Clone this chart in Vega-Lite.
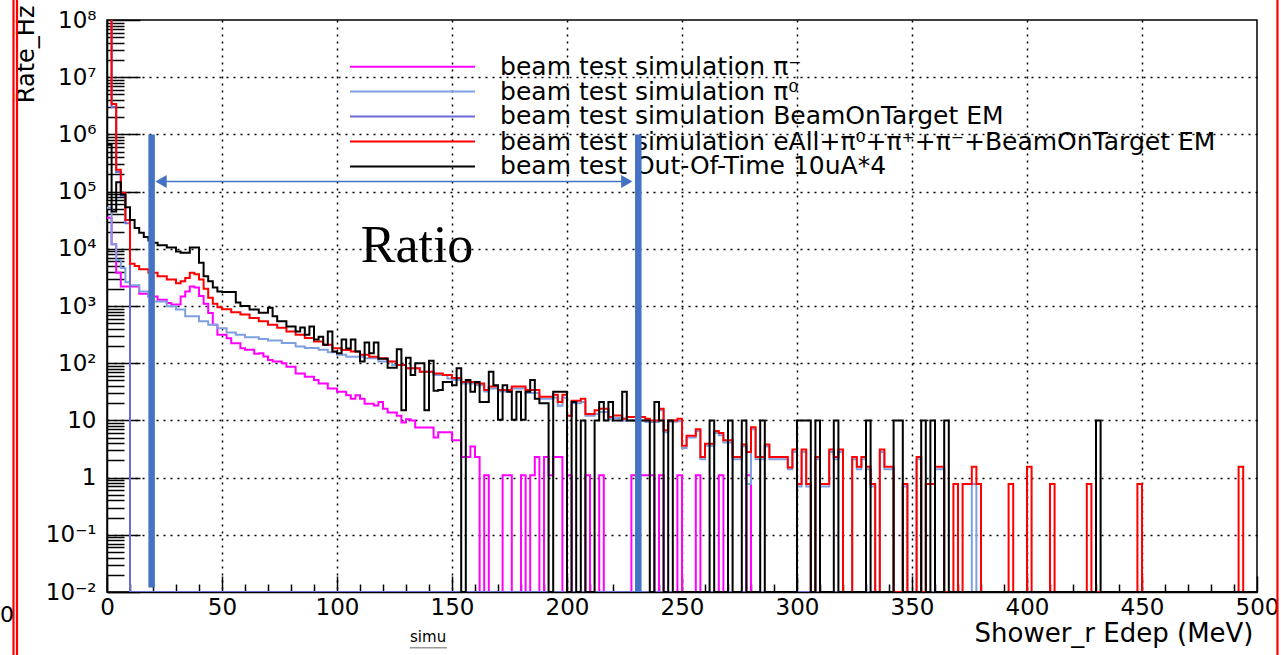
{
  "$schema": "https://vega.github.io/schema/vega-lite/v6.json",
  "width": 1150,
  "height": 572,
  "autosize": {"type": "none"},
  "padding": {"left": 107, "top": 20, "right": 24, "bottom": 63},
  "background": "white",
  "config": {"view": {"stroke": "black", "strokeWidth": 1.5}, "font": "DejaVu Sans"},
  "datasets": {
    "pim": [
      {"x":0,"v":35000},{"x":2,"v":12000},{"x":4,"v":3800},{"x":6,"v":2200},{"x":14,"v":1640},{"x":18,"v":1470},{"x":22,"v":1290},{"x":26,"v":1130},{"x":28,"v":1060},{"x":32,"v":1470},{"x":34,"v":1800},{"x":36,"v":2200},{"x":38,"v":2100},{"x":40,"v":1500},{"x":42,"v":1100},{"x":44,"v":755},{"x":46,"v":470},{"x":48,"v":314},{"x":52,"v":274},{"x":54,"v":224},{"x":58,"v":183},{"x":60,"v":171},{"x":64,"v":146},{"x":66,"v":150},{"x":68,"v":131},{"x":70,"v":114},{"x":72,"v":107},{"x":76,"v":100},{"x":78,"v":87},{"x":82,"v":66},{"x":86,"v":58},{"x":90,"v":51},{"x":92,"v":44},{"x":96,"v":36},{"x":100,"v":31.6},{"x":104,"v":27.6},{"x":106,"v":24},{"x":108,"v":27.6},{"x":110,"v":24},{"x":112,"v":19.6},{"x":116,"v":18.3},{"x":118,"v":21},{"x":120,"v":16},{"x":122,"v":13.7},{"x":126,"v":12},{"x":128,"v":9.2},{"x":130,"v":10.5},{"x":132,"v":10},{"x":134,"v":7.5},{"x":142,"v":5},{"x":144,"v":6.2},{"x":150,"v":4.5},{"x":154,"v":2.3},{"x":158,"v":3.5},{"x":160,"v":2.3},{"x":162,"v":0.01},{"x":164,"v":1.1},{"x":166,"v":0.01},{"x":172,"v":1.1},{"x":176,"v":0.01},{"x":180,"v":1.1},{"x":182,"v":0.01},{"x":184,"v":1.1},{"x":186,"v":2.3},{"x":188,"v":0.01},{"x":190,"v":2.3},{"x":192,"v":1.1},{"x":194,"v":2.3},{"x":198,"v":0.01},{"x":200,"v":1.1},{"x":202,"v":0.01},{"x":208,"v":1.1},{"x":210,"v":0.01},{"x":214,"v":1.1},{"x":216,"v":0.01},{"x":228,"v":1.1},{"x":238,"v":0.01},{"x":240,"v":1.1},{"x":242,"v":0.01},{"x":248,"v":1.1},{"x":250,"v":0.01},{"x":256,"v":1.1},{"x":258,"v":0.01},{"x":266,"v":1.1},{"x":268,"v":0.01},{"x":278,"v":1.1},{"x":280,"v":0.01},{"x":500,"v":0.01}
    ],
    "pi0": [
      {"x":0,"v":52000},{"x":2,"v":12000},{"x":4,"v":6400},{"x":6,"v":4600},{"x":8,"v":2600},{"x":10,"v":2300},{"x":14,"v":1800},{"x":18,"v":1470},{"x":20,"v":1200},{"x":26,"v":990},{"x":30,"v":865},{"x":34,"v":660},{"x":40,"v":540},{"x":44,"v":470},{"x":48,"v":410},{"x":52,"v":345},{"x":56,"v":315},{"x":60,"v":285},{"x":66,"v":265},{"x":70,"v":250},{"x":76,"v":225},{"x":82,"v":196},{"x":86,"v":185},{"x":92,"v":171},{"x":96,"v":155},{"x":100,"v":140},{"x":104,"v":130},{"x":112,"v":122},{"x":118,"v":107},{"x":124,"v":93},{"x":130,"v":82},{"x":136,"v":71},{"x":142,"v":62},{"x":148,"v":54},{"x":150,"v":51},{"x":154,"v":44},{"x":160,"v":41},{"x":164,"v":32},{"x":166,"v":36},{"x":170,"v":32},{"x":176,"v":36},{"x":182,"v":30},{"x":188,"v":24},{"x":194,"v":25},{"x":196,"v":18},{"x":198,"v":25},{"x":200,"v":12},{"x":202,"v":20},{"x":206,"v":21},{"x":208,"v":12},{"x":212,"v":13},{"x":214,"v":14},{"x":218,"v":10.5},{"x":220,"v":11},{"x":224,"v":10},{"x":234,"v":9.4},{"x":240,"v":15},{"x":242,"v":6.2},{"x":244,"v":9.5},{"x":248,"v":9.8},{"x":250,"v":3.3},{"x":252,"v":5},{"x":256,"v":6.5},{"x":258,"v":2.1},{"x":260,"v":3.6},{"x":264,"v":6},{"x":266,"v":5.5},{"x":268,"v":4.1},{"x":272,"v":2.1},{"x":276,"v":3.5},{"x":278,"v":0.77},{"x":280,"v":7},{"x":282,"v":2.1},{"x":286,"v":3.5},{"x":288,"v":2.1},{"x":296,"v":1.4},{"x":298,"v":2.8},{"x":300,"v":0.7},{"x":302,"v":2.8},{"x":304,"v":0.7},{"x":306,"v":0.01},{"x":308,"v":2.1},{"x":310,"v":0.7},{"x":314,"v":2.8},{"x":316,"v":2.1},{"x":318,"v":2.8},{"x":320,"v":0.01},{"x":324,"v":2.1},{"x":326,"v":1.4},{"x":328,"v":2.1},{"x":330,"v":1.4},{"x":332,"v":0.7},{"x":334,"v":0.01},{"x":336,"v":2.8},{"x":338,"v":1.4},{"x":342,"v":0.01},{"x":346,"v":0.7},{"x":348,"v":0.01},{"x":352,"v":2.1},{"x":354,"v":0.01},{"x":360,"v":1.4},{"x":364,"v":0.01},{"x":376,"v":0.77},{"x":378,"v":0.01},{"x":500,"v":0.01}
    ],
    "bot": [
      {"x":0,"v":1e9},{"x":2,"v":3000000},{"x":4,"v":220000},{"x":6,"v":85000},{"x":8,"v":28000},{"x":10,"v":0.01},{"x":500,"v":0.01}
    ],
    "all": [
      {"x":0,"v":1e9},{"x":2,"v":3400000},{"x":4,"v":240000},{"x":6,"v":95000},{"x":8,"v":32000},{"x":10,"v":5500},{"x":12,"v":5000},{"x":14,"v":4400},{"x":18,"v":3800},{"x":22,"v":3300},{"x":26,"v":2900},{"x":30,"v":2500},{"x":32,"v":2700},{"x":34,"v":3100},{"x":36,"v":3800},{"x":38,"v":3600},{"x":40,"v":2900},{"x":42,"v":2000},{"x":44,"v":1400},{"x":46,"v":1100},{"x":48,"v":950},{"x":50,"v":880},{"x":54,"v":780},{"x":58,"v":710},{"x":62,"v":620},{"x":66,"v":540},{"x":70,"v":470},{"x":74,"v":415},{"x":78,"v":360},{"x":82,"v":315},{"x":86,"v":275},{"x":90,"v":240},{"x":94,"v":210},{"x":98,"v":183},{"x":102,"v":170},{"x":106,"v":160},{"x":110,"v":140},{"x":114,"v":130},{"x":118,"v":122},{"x":122,"v":107},{"x":126,"v":93},{"x":130,"v":82},{"x":136,"v":71},{"x":142,"v":66},{"x":146,"v":62},{"x":150,"v":55},{"x":154,"v":47},{"x":160,"v":44},{"x":164,"v":34},{"x":166,"v":39},{"x":170,"v":34},{"x":176,"v":39},{"x":182,"v":34},{"x":188,"v":26},{"x":194,"v":28},{"x":196,"v":21},{"x":198,"v":28},{"x":200,"v":12},{"x":202,"v":22},{"x":206,"v":24},{"x":208,"v":13},{"x":212,"v":15},{"x":214,"v":16},{"x":218,"v":11.5},{"x":220,"v":12.2},{"x":224,"v":10.7},{"x":226,"v":11.5},{"x":234,"v":10.7},{"x":236,"v":10},{"x":240,"v":16},{"x":242,"v":6.7},{"x":244,"v":10},{"x":248,"v":10.7},{"x":250,"v":3.6},{"x":252,"v":5.4},{"x":256,"v":7},{"x":258,"v":2.3},{"x":260,"v":3.9},{"x":264,"v":6.5},{"x":266,"v":6},{"x":268,"v":4.5},{"x":272,"v":2.3},{"x":276,"v":3.8},{"x":278,"v":2.8},{"x":280,"v":7.6},{"x":282,"v":2.3},{"x":286,"v":3.8},{"x":288,"v":2.3},{"x":296,"v":1.5},{"x":298,"v":3.1},{"x":300,"v":0.77},{"x":302,"v":3.1},{"x":304,"v":0.77},{"x":306,"v":0.01},{"x":308,"v":2.3},{"x":310,"v":0.77},{"x":314,"v":3.1},{"x":316,"v":2.3},{"x":318,"v":3.1},{"x":320,"v":0.01},{"x":324,"v":2.3},{"x":326,"v":1.55},{"x":328,"v":2.3},{"x":330,"v":1.55},{"x":332,"v":0.77},{"x":334,"v":0.01},{"x":336,"v":3.1},{"x":338,"v":1.55},{"x":342,"v":0.01},{"x":346,"v":0.77},{"x":348,"v":0.01},{"x":352,"v":2.3},{"x":354,"v":0.01},{"x":356,"v":0.77},{"x":360,"v":1.55},{"x":364,"v":0.01},{"x":368,"v":0.77},{"x":370,"v":0.01},{"x":372,"v":0.77},{"x":376,"v":1.55},{"x":378,"v":0.77},{"x":380,"v":0.01},{"x":392,"v":0.77},{"x":394,"v":0.01},{"x":400,"v":1.55},{"x":402,"v":0.01},{"x":410,"v":0.77},{"x":412,"v":0.01},{"x":426,"v":0.77},{"x":428,"v":0.01},{"x":448,"v":0.77},{"x":450,"v":0.01},{"x":492,"v":1.55},{"x":494,"v":0.01},{"x":500,"v":0.01}
    ],
    "oot": [
      {"x":0,"v":660000},{"x":2,"v":45000},{"x":4,"v":145000},{"x":6,"v":89000},{"x":8,"v":53000},{"x":10,"v":32000},{"x":12,"v":23000},{"x":14,"v":19000},{"x":16,"v":16000},{"x":18,"v":14000},{"x":20,"v":12700},{"x":22,"v":11500},{"x":26,"v":10500},{"x":30,"v":9000},{"x":32,"v":8500},{"x":36,"v":10500},{"x":40,"v":5700},{"x":42,"v":3300},{"x":44,"v":2700},{"x":46,"v":2100},{"x":48,"v":1800},{"x":50,"v":1760},{"x":56,"v":1150},{"x":58,"v":1000},{"x":62,"v":870},{"x":66,"v":760},{"x":70,"v":930},{"x":72,"v":660},{"x":74,"v":540},{"x":78,"v":440},{"x":82,"v":360},{"x":84,"v":420},{"x":86,"v":315},{"x":88,"v":440},{"x":90,"v":260},{"x":92,"v":290},{"x":94,"v":210},{"x":96,"v":360},{"x":98,"v":160},{"x":100,"v":150},{"x":102,"v":260},{"x":104,"v":180},{"x":106,"v":260},{"x":108,"v":160},{"x":110,"v":107},{"x":112,"v":230},{"x":114,"v":150},{"x":116,"v":230},{"x":118,"v":120},{"x":122,"v":83},{"x":126,"v":175},{"x":128,"v":15},{"x":130,"v":125},{"x":132,"v":62},{"x":134,"v":100},{"x":138,"v":15},{"x":140,"v":110},{"x":142,"v":33},{"x":144,"v":34},{"x":146,"v":47},{"x":150,"v":41},{"x":152,"v":82},{"x":154,"v":0.01},{"x":156,"v":51},{"x":158,"v":31.6},{"x":160,"v":47},{"x":162,"v":21},{"x":166,"v":71},{"x":168,"v":41},{"x":170,"v":10.3},{"x":172,"v":41},{"x":174,"v":31.6},{"x":176,"v":10.3},{"x":178,"v":31.6},{"x":180,"v":10.3},{"x":182,"v":31.6},{"x":184,"v":51},{"x":186,"v":24},{"x":188,"v":20},{"x":192,"v":0.01},{"x":194,"v":31.6},{"x":200,"v":0.01},{"x":202,"v":21},{"x":204,"v":0.01},{"x":206,"v":10},{"x":208,"v":0.01},{"x":212,"v":10},{"x":214,"v":21},{"x":216,"v":10},{"x":218,"v":21},{"x":220,"v":10},{"x":224,"v":31.6},{"x":226,"v":10},{"x":230,"v":10},{"x":236,"v":0.01},{"x":238,"v":21},{"x":240,"v":10},{"x":242,"v":0.01},{"x":244,"v":10},{"x":246,"v":0.01},{"x":262,"v":10},{"x":264,"v":0.01},{"x":270,"v":10},{"x":272,"v":0.01},{"x":276,"v":10},{"x":278,"v":0.01},{"x":284,"v":10},{"x":286,"v":0.01},{"x":300,"v":10},{"x":306,"v":0.01},{"x":308,"v":10},{"x":310,"v":0.01},{"x":316,"v":10},{"x":318,"v":0.01},{"x":330,"v":10},{"x":332,"v":0.01},{"x":342,"v":10},{"x":346,"v":0.01},{"x":354,"v":10},{"x":356,"v":0.01},{"x":358,"v":10},{"x":360,"v":0.01},{"x":364,"v":10},{"x":366,"v":0.01},{"x":430,"v":10},{"x":432,"v":0.01},{"x":500,"v":0.01}
    ],
    "legendLines": [
      {"x":105.65,"x2":160,"v":15200000,"c":"pim"},
      {"x":105.65,"x2":160,"v":5600000,"c":"pi0"},
      {"x":105.65,"x2":160,"v":2060000,"c":"bot"},
      {"x":105.65,"x2":160,"v":750000,"c":"all"},
      {"x":105.65,"x2":160,"v":275000,"c":"oot"}
    ],
    "legendText": [
      {"x":170.9,"v":15200000,"label":"beam test simulation π⁻"},
      {"x":170.9,"v":5600000,"label":"beam test simulation π⁰"},
      {"x":170.9,"v":2060000,"label":"beam test simulation BeamOnTarget EM"},
      {"x":170.9,"v":750000,"label":"beam test simulation eAll+π⁰+π⁺+π⁻+BeamOnTarget EM"},
      {"x":170.9,"v":275000,"label":"beam test Out-Of-Time 10uA*4"}
    ],
    "bars": [{"x":19.4,"v":1000000,"v2":0.012},{"x":231,"v":1000000,"v2":0.01}],
    "arrow": [{"x":23,"x2":226,"v":150000}],
    "headL": [{"x":23.5,"v":150000}],
    "headR": [{"x":226,"v":150000}],
    "ratio": [{"x":134.8,"v":5900,"t":"Ratio"}],
    "deco": [{"x":-40.65,"v":0.0005,"v2":300000000},{"x":-39.13,"v":0.0005,"v2":300000000},{"x":508.9,"v":0.0005,"v2":300000000}],
    "extra": [{"x":-43.5,"v":0.004,"t":"0"}],
    "simu": [{"x":139.6,"v":0.00166,"t":"simu"}],
    "simubar": [{"x":131.7,"x2":147.8,"v":0.00106}]
  },
  "encoding": {
    "x": {
      "field": "x", "type": "quantitative",
      "scale": {"domain": [0, 500], "nice": false, "zero": false},
      "axis": {
        "values": [0,10,20,30,40,50,60,70,80,90,100,110,120,130,140,150,160,170,180,190,200,210,220,230,240,250,260,270,280,290,300,310,320,330,340,350,360,370,380,390,400,410,420,430,440,450,460,470,480,490,500],
        "format": "d",
        "labelExpr": "datum.value % 50 === 0 ? datum.label : ''",
        "labelFont": "DejaVu Sans", "labelFontSize": 23, "labelColor": "black",
        "labelPadding": 20, "labelFlush": false, "labelOverlap": false, "labelBound": false,
        "tickColor": "black", "tickWidth": 1.5,
        "tickSize": {"condition": {"test": "datum.value % 50 === 0", "value": -16}, "value": -8},
        "domainColor": "black", "domainWidth": 1.5,
        "grid": true, "gridColor": "black", "gridWidth": 1.5, "gridDash": [2, 5],
        "gridOpacity": {"condition": {"test": "datum.value % 50 === 0 && datum.value > 0 && datum.value < 500", "value": 1}, "value": 0},
        "title": "Shower_r Edep (MeV)",
        "titleFont": "DejaVu Sans", "titleFontSize": 26, "titleFontWeight": "normal", "titleColor": "black",
        "titleAlign": "right", "titleBaseline": "alphabetic", "titleX": 1146, "titleY": 49
      }
    },
    "y": {
      "field": "v", "type": "quantitative",
      "scale": {"type": "log", "domain": [0.01, 100000000], "nice": false},
      "axis": {
        "values": [0.01,0.02,0.03,0.04,0.05,0.06,0.07,0.08,0.09,0.1,0.2,0.3,0.4,0.5,0.6,0.7,0.8,0.9,1,2,3,4,5,6,7,8,9,10,20,30,40,50,60,70,80,90,100,200,300,400,500,600,700,800,900,1000,2000,3000,4000,5000,6000,7000,8000,9000,10000,20000,30000,40000,50000,60000,70000,80000,90000,100000,200000,300000,400000,500000,600000,700000,800000,900000,1000000,2000000,3000000,4000000,5000000,6000000,7000000,8000000,9000000,10000000,20000000,30000000,40000000,50000000,60000000,70000000,80000000,90000000,100000000],
        "labelExpr": "abs(log(datum.value)/LN10 - round(log(datum.value)/LN10)) < 0.001 ? ['10⁻²','10⁻¹','1','10','10²','10³','10⁴','10⁵','10⁶','10⁷','10⁸'][round(log(datum.value)/LN10)+2] : ''",
        "labelFont": "DejaVu Sans", "labelFontSize": 23, "labelColor": "black",
        "labelPadding": 44, "labelFlush": false, "labelOverlap": false, "labelBound": false,
        "tickColor": "black", "tickWidth": 1.5,
        "tickSize": {"condition": {"test": "abs(log(datum.value)/LN10 - round(log(datum.value)/LN10)) < 0.001", "value": -33}, "value": -17},
        "domainColor": "black", "domainWidth": 1.5,
        "grid": true, "gridColor": "black", "gridWidth": 1.5, "gridDash": [2, 5],
        "gridOpacity": {"condition": {"test": "abs(log(datum.value)/LN10 - round(log(datum.value)/LN10)) < 0.001 && datum.value > 0.011 && datum.value < 90000000", "value": 1}, "value": 0},
        "title": "Rate_Hz",
        "titleFont": "DejaVu Sans", "titleFontSize": 24, "titleFontWeight": "normal", "titleColor": "black",
        "titleAngle": 270, "titleAlign": "right", "titleBaseline": "alphabetic", "titleX": -74, "titleY": -15
      }
    }
  },
  "layer": [
    {"data": {"name": "pim"}, "mark": {"type": "line", "interpolate": "step-after", "color": "#ff00ff", "strokeWidth": 2, "clip": true}},
    {"data": {"name": "pi0"}, "mark": {"type": "line", "interpolate": "step-after", "color": "#7fa0e0", "strokeWidth": 2, "clip": true}},
    {"data": {"name": "bot"}, "mark": {"type": "line", "interpolate": "step-after", "color": "#6b6bd6", "strokeWidth": 2, "clip": true}},
    {"data": {"name": "all"}, "mark": {"type": "line", "interpolate": "step-after", "color": "#ff0000", "strokeWidth": 2, "clip": true}},
    {"data": {"name": "oot"}, "mark": {"type": "line", "interpolate": "step-after", "color": "#000000", "strokeWidth": 2, "clip": true}},
    {
      "data": {"name": "legendLines"},
      "mark": {"type": "rule", "strokeWidth": 2},
      "encoding": {
        "x2": {"field": "x2"},
        "color": {"field": "c", "type": "nominal", "scale": {"domain": ["pim", "pi0", "bot", "all", "oot"], "range": ["#ff00ff", "#7fa0e0", "#6b6bd6", "#ff0000", "#000000"]}, "legend": null}
      }
    },
    {
      "data": {"name": "legendText"},
      "mark": {"type": "text", "align": "left", "baseline": "middle", "font": "DejaVu Sans", "fontSize": 25, "color": "black"},
      "encoding": {"text": {"field": "label"}}
    },
    {
      "data": {"name": "bars"},
      "mark": {"type": "rule", "color": "#4472c4", "strokeWidth": 6.5},
      "encoding": {"y2": {"field": "v2"}}
    },
    {
      "data": {"name": "arrow"},
      "mark": {"type": "rule", "color": "#4472c4", "strokeWidth": 1.5},
      "encoding": {"x2": {"field": "x2"}}
    },
    {
      "data": {"name": "headL"},
      "mark": {"type": "point", "shape": "triangle-left", "filled": true, "color": "#4472c4", "size": 170, "opacity": 1}
    },
    {
      "data": {"name": "headR"},
      "mark": {"type": "point", "shape": "triangle-right", "filled": true, "color": "#4472c4", "size": 170, "opacity": 1}
    },
    {
      "data": {"name": "ratio"},
      "mark": {"type": "text", "align": "center", "baseline": "alphabetic", "font": "Liberation Serif", "fontSize": 52, "color": "black"},
      "encoding": {"text": {"field": "t"}}
    },
    {
      "data": {"name": "deco"},
      "mark": {"type": "rule", "color": "#ff0000", "strokeWidth": 2.2, "clip": false},
      "encoding": {"y2": {"field": "v2"}}
    },
    {
      "data": {"name": "extra"},
      "mark": {"type": "text", "align": "center", "baseline": "middle", "font": "DejaVu Sans", "fontSize": 22, "color": "black"},
      "encoding": {"text": {"field": "t"}}
    },
    {
      "data": {"name": "simu"},
      "mark": {"type": "text", "align": "center", "baseline": "middle", "font": "DejaVu Sans", "fontSize": 15, "color": "black"},
      "encoding": {"text": {"field": "t"}}
    },
    {
      "data": {"name": "simubar"},
      "mark": {"type": "rule", "color": "#999999", "strokeWidth": 1.5},
      "encoding": {"x2": {"field": "x2"}}
    }
  ]
}
